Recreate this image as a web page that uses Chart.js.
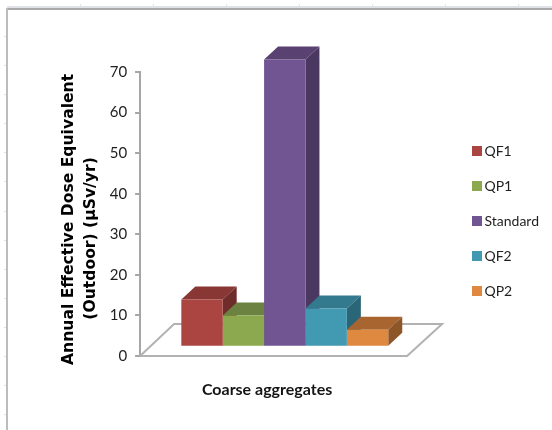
<!DOCTYPE html>
<html>
<head>
<meta charset="utf-8">
<style>
  html, body { margin: 0; padding: 0; background: #fff; }
  canvas { display: block; }
</style>
<script src="https://cdn.jsdelivr.net/npm/chart.js@4/dist/chart.umd.js"></script>
</head>
<body>
<canvas id="chart" width="552" height="430"></canvas>
<script>
const categories = ["Coarse aggregates"];
const seriesNames = ["QF1", "QP1", "Standard", "QF2", "QP2"];
const seriesValues = [11.4, 7.5, 70.6, 9.2, 4];
const frontColors = ["#AB4542", "#8CA94F", "#715492", "#4299B2", "#DF8840"];
const topColors = ["#883735", "#6C8240", "#594272", "#337A8E", "#A86530"];
const sideColors = ["#6E2C2A", "#5C7035", "#4B3860", "#2B6678", "#8D5629"];

const FONT = "Lato, 'Open Sans', sans-serif";
const depth = { x: 14, y: 13 }; // how far the bars recede

// small square for the legend; as an image it can overhang its slot,
// which brings the label closer than the usual box gap
function swatch(color) {
  const c = document.createElement("canvas");
  c.width = c.height = 10;
  const g = c.getContext("2d");
  g.fillStyle = color;
  g.fillRect(0, 0, 10, 10);
  return c;
}

// spreadsheet edge behind the chart
const sheetFrame = {
  id: "sheetFrame",
  beforeDraw(chart) {
    const { ctx, width, height } = chart;
    ctx.save();
    ctx.fillStyle = "#fff";
    ctx.fillRect(0, 0, width, height);
    ctx.fillStyle = "#dfe3e8";
    ctx.fillRect(7, 6, width - 7, 2);
    for (let x = 80; x < width; x += 73) ctx.fillRect(x, 4, 1, 4);
    for (let y = 36; y < height; y += 29.1) ctx.fillRect(4, Math.round(y), 3, 1);
    ctx.fillStyle = "#a9a9a9";
    ctx.fillRect(7, 8, width - 7, 2);
    ctx.fillStyle = "#bcbcbc";
    ctx.fillRect(6, 8, 2, height - 8);
    ctx.restore();
  }
};

// floor outline, axis caption, then the top and side faces of the bars.
// Chart.js paints the front faces afterwards, so they always end up on top.
const floorAndDepth = {
  id: "floorAndDepth",
  beforeDatasetsDraw(chart) {
    const { ctx, chartArea, scales } = chart;
    const y0 = scales.y.getPixelForValue(0);
    const left = chartArea.left;
    ctx.save();
    ctx.strokeStyle = "#b2b2b2";
    ctx.lineWidth = 2;
    ctx.beginPath();
    ctx.moveTo(left, y0);
    ctx.lineTo(left + 34, y0 - 32);
    ctx.lineTo(left + 302, y0 - 32);
    ctx.lineTo(left + 267, y0);
    ctx.lineTo(left, y0);
    ctx.stroke();

    ctx.fillStyle = "#141414";
    ctx.font = "bold 16px " + FONT;
    ctx.textAlign = "center";
    ctx.textBaseline = "alphabetic";
    ctx.fillText(categories[0], left + 127, y0 + 39);

    seriesNames.forEach((name, i) => {
      const bar = chart.getDatasetMeta(i).data[0];
      const half = bar.width / 2;
      const l = bar.x - half, r = bar.x + half;
      ctx.fillStyle = topColors[i];
      ctx.beginPath();
      ctx.moveTo(l, bar.y);
      ctx.lineTo(l + depth.x, bar.y - depth.y);
      ctx.lineTo(r + depth.x, bar.y - depth.y);
      ctx.lineTo(r, bar.y);
      ctx.closePath();
      ctx.fill();
      ctx.fillStyle = sideColors[i];
      ctx.beginPath();
      ctx.moveTo(r, bar.y);
      ctx.lineTo(r + depth.x, bar.y - depth.y);
      ctx.lineTo(r + depth.x, bar.base - depth.y);
      ctx.lineTo(r, bar.base);
      ctx.closePath();
      ctx.fill();
    });
    ctx.restore();
  }
};

// legend sits further right and lower than the default layout puts it
const legendShift = {
  id: "legendShift",
  afterLayout(chart) {
    const legend = chart.legend;
    legend.left += 26;
    legend.right += 26;
    legend.top += 7;
    legend.bottom += 7;
  }
};

new Chart(document.getElementById("chart"), {
  type: "bar",
  data: {
    labels: categories,
    datasets: seriesNames.map((name, i) => ({
      label: name,
      data: [seriesValues[i]],
      backgroundColor: frontColors[i],
      pointStyle: swatch(frontColors[i]),
      borderWidth: 0,
      yAxisID: "yBars",
      clip: false,
      categoryPercentage: 0.715,
      barPercentage: 1
    }))
  },
  options: {
    responsive: false,
    animation: false,
    layout: { padding: { left: 58, top: 72, bottom: 74, right: 29 } },
    plugins: {
      tooltip: { enabled: false },
      legend: {
        position: "right",
        labels: {
          usePointStyle: true,
          pointStyleWidth: 1,
          boxHeight: 10,
          padding: 21,
          color: "#1f1f1f",
          font: { family: FONT, size: 14 }
        }
      }
    },
    scales: {
      x: { display: false },
      y: {
        position: "left",
        min: 0,
        max: 70,
        ticks: {
          stepSize: 10,
          padding: 8,
          color: "#1f1f1f",
          font: { family: FONT, size: 15 }
        },
        border: { color: "#a6a6a6", width: 2 },
        grid: { drawOnChartArea: false, color: "#a6a6a6", tickLength: 5, lineWidth: 2 },
        title: {
          display: true,
          text: ["Annual Effective Dose Equivalent  ", "(Outdoor) (µSv/yr)         "],
          color: "#000",
          padding: { top: 0, bottom: 0 },
          font: { family: "'DejaVu Sans'", size: 15.6, weight: "bold", lineHeight: 1.4 }
        }
      },
      // bars stand on the floor, a little above the axis zero
      yBars: { display: false, position: "right", min: -2.5, max: 67.5 }
    }
  },
  plugins: [sheetFrame, floorAndDepth, legendShift]
});
</script>
</body>
</html>
